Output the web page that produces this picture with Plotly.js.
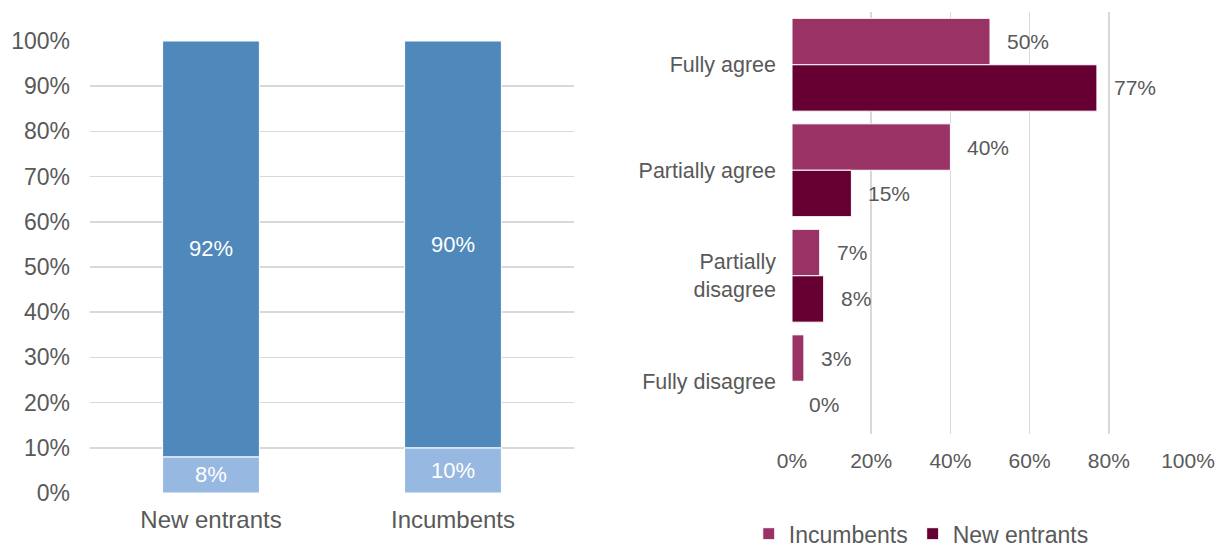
<!DOCTYPE html>
<html>
<head>
<meta charset="utf-8">
<script src="https://cdn.plot.ly/plotly-3.0.1.min.js"></script>
<style>html,body{margin:0;padding:0;background:#fff;}#chart{width:1217px;height:548px;}</style>
</head>
<body>
<div id="chart"></div>
<script>
// Left chart data
const groups = ["New entrants", "Incumbents"];
const lowerShare = [0.08, 0.10];
const upperShare = [0.92, 0.90];

// Right chart data
const answers = ["Fully agree", "Partially agree", "Partially<br>disagree", "Fully disagree"];
const incumbents = [0.50, 0.40, 0.07, 0.03];
const newEntrants = [0.77, 0.15, 0.08, 0.00];

const pct = v => Math.round(v * 100) + "%";
const textColor = "#595959";
const fontFam = "Liberation Sans, Arial, sans-serif";

const traces = [
  {
    type: "bar", x: groups, y: lowerShare, xaxis: "x", yaxis: "y",
    offsetgroup: "L", width: 0.4,
    marker: {color: "#97B8E0", line: {color: "#ffffff", width: 1}},
    text: lowerShare.map(pct), textposition: "inside", insidetextanchor: "middle",
    textfont: {color: "#ffffff", size: 22, family: fontFam},
    showlegend: false, hoverinfo: "skip"
  },
  {
    type: "bar", x: groups, y: upperShare, base: lowerShare, xaxis: "x", yaxis: "y",
    offsetgroup: "L", width: 0.4,
    marker: {color: "#4F88BB", line: {color: "#ffffff", width: 1}},
    text: upperShare.map(pct), textposition: "inside", insidetextanchor: "middle",
    textfont: {color: "#ffffff", size: 22, family: fontFam},
    showlegend: false, hoverinfo: "skip"
  },
  {
    type: "bar", orientation: "h", y: answers, x: incumbents, xaxis: "x2", yaxis: "y2",
    name: "Incumbents",
    marker: {color: "#993366", line: {color: "#ffffff", width: 1}},
    hoverinfo: "skip"
  },
  {
    type: "bar", orientation: "h", y: answers, x: newEntrants, xaxis: "x2", yaxis: "y2",
    name: "New entrants",
    marker: {color: "#660033", line: {color: "#ffffff", width: 1}},
    hoverinfo: "skip"
  }
];

const annotations = [];
answers.forEach((a, i) => {
  annotations.push({x: incumbents[i], y: a, xref: "x2", yref: "y2", text: pct(incumbents[i]),
    showarrow: false, xanchor: "left", yanchor: "middle", xshift: 15, yshift: 23,
    font: {size: 21, color: textColor, family: fontFam}});
  annotations.push({x: newEntrants[i], y: a, xref: "x2", yref: "y2", text: pct(newEntrants[i]),
    showarrow: false, xanchor: "left", yanchor: "middle", xshift: 15, yshift: -23,
    font: {size: 21, color: textColor, family: fontFam}});
});

const layout = {
  width: 1217, height: 548,
  margin: {l: 0, r: 0, t: 0, b: 0, autoexpand: false},
  paper_bgcolor: "#ffffff", plot_bgcolor: "#ffffff",
  font: {family: fontFam, color: textColor},
  barmode: "group", bargap: 0.12, bargroupgap: 0,
  xaxis: {
    domain: [90/1217, 574/1217], anchor: "y",
    showgrid: false, showline: false, zeroline: false,
    tickfont: {size: 24, color: textColor}, ticks: "", ticklabelstandoff: 10,
    automargin: false, fixedrange: true
  },
  yaxis: {
    domain: [(548-493)/548, (548-41)/548], anchor: "x",
    range: [0, 1], tickvals: [0,0.1,0.2,0.3,0.4,0.5,0.6,0.7,0.8,0.9,1],
    tickformat: ".0%", showgrid: true, gridcolor: "#D9D9D9", gridwidth: 1.6,
    zeroline: false, showline: false, ticks: "",
    tickfont: {size: 23, color: textColor}, ticklabelstandoff: 19,
    automargin: false, fixedrange: true
  },
  xaxis2: {
    domain: [792/1217, 1188/1217], anchor: "y2",
    range: [0, 1], tickvals: [0,0.2,0.4,0.6,0.8,1], tickformat: ".0%",
    showgrid: true, gridcolor: "#D9D9D9", gridwidth: 1.6,
    zeroline: false, showline: false, ticks: "",
    tickfont: {size: 21, color: textColor}, ticklabelstandoff: 12,
    automargin: false, fixedrange: true
  },
  yaxis2: {
    domain: [(548-434)/548, (548-12)/548], anchor: "x2",
    autorange: "reversed", showgrid: false, zeroline: false, showline: false, ticks: "",
    tickfont: {size: 21.5, color: textColor}, ticklabelstandoff: 15,
    automargin: false, fixedrange: true
  },
  legend: {
    orientation: "h", x: 0.757, xanchor: "center", y: 0.026, yanchor: "middle",
    font: {size: 23, color: textColor}, itemwidth: 30,
    itemclick: false, itemdoubleclick: false
  },
  annotations: annotations,
  showlegend: true
};

Plotly.newPlot("chart", traces, layout, {displayModeBar: false, staticPlot: true});
</script>
</body>
</html>
